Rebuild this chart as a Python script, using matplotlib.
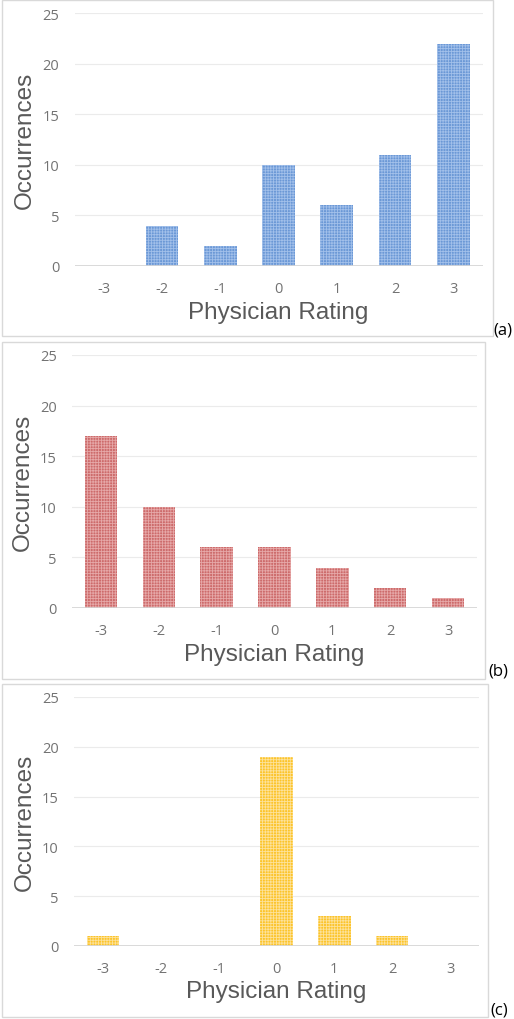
import matplotlib
matplotlib.use("Agg")
import matplotlib.pyplot as plt
import matplotlib.patches as mpatches

# Data
ratings = ["-3", "-2", "-1", "0", "1", "2", "3"]
counts_a = [0, 4, 2, 10, 6, 11, 22]
counts_b = [17, 10, 6, 6, 4, 2, 1]
counts_c = [1, 0, 0, 19, 3, 1, 0]
panel_tags = ["(a)", "(b)", "(c)"]
y_ticks = [0, 5, 10, 15, 20, 25]

W, H = 514, 1020
plt.rcParams['font.family'] = ['Liberation Sans', 'DejaVu Sans']
plt.rcParams['hatch.linewidth'] = 0.6

fig = plt.figure(figsize=(W / 100, H / 100), dpi=100)

# pixel layout: (axes left, axes right, y of 0, y of 25), border box, tag pos
panels = [
    dict(counts=counts_a, face="#6b98d6", dots="#a2c0ea",
         ax=(74.5, 482.5, 267, 14.3), box=(2, 1, 493, 337), tag=(493, 331)),
    dict(counts=counts_b, face="#cd6b6b", dots="#e6a8a8",
         ax=(72, 477, 609, 356), box=(2, 343, 485, 680), tag=(488, 672)),
    dict(counts=counts_c, face="#fcc42a", dots="#fde29a",
         ax=(74, 479, 947, 698), box=(2, 685, 488, 1018), tag=(490, 1011)),
]

for p, tag in zip(panels, panel_tags):
    x0, x1, y0, y1 = p["ax"]
    ax = fig.add_axes([x0 / W, 1 - y0 / H, (x1 - x0) / W, (y0 - y1) / H])

    ax.bar(range(len(ratings)), p["counts"], width=0.56, color=p["face"],
           edgecolor=p["dots"], linewidth=0, hatch="++++++", zorder=3)

    ax.set_xlim(-0.5, len(ratings) - 0.5)
    ax.set_ylim(0, 25)
    ax.set_yticks(y_ticks)
    ax.set_xticks(range(len(ratings)))
    ax.set_xticklabels(ratings)

    ax.grid(axis="y", color="#ebebeb", linewidth=0.8, zorder=0)
    ax.axhline(0, color="#d4d4d4", linewidth=1.2, zorder=4)
    for s in ax.spines.values():
        s.set_visible(False)
    ax.tick_params(length=0, labelsize=10.5, labelcolor="#737373")
    ax.tick_params(axis="y", pad=11)
    ax.tick_params(axis="x", pad=11)
    for lbl in ax.get_xticklabels() + ax.get_yticklabels():
        lbl.set_family(["Open Sans", "DejaVu Sans"])

    ax.set_ylabel("Occurrences", fontsize=17.5, color="#595959", va="center")
    ax.yaxis.set_label_coords(-0.121, 0.5)
    ax.set_xlabel("Physician Rating", fontsize=17.5, color="#595959", va="center")
    ax.xaxis.set_label_coords(0.5, -0.182)

    bx0, by0, bx1, by1 = p["box"]
    fig.add_artist(mpatches.Rectangle((bx0 / W, 1 - by1 / H), (bx1 - bx0) / W,
                                      (by1 - by0) / H, transform=fig.transFigure,
                                      fill=False, edgecolor="#d9d9d9", linewidth=1))
    tx, ty = p["tag"]
    fig.text(tx / W, 1 - ty / H, tag, fontsize=12, color="black",
             family=["Open Sans", "DejaVu Sans"], ha="left", va="center")

fig.savefig("out.png", dpi=100, facecolor="white")
